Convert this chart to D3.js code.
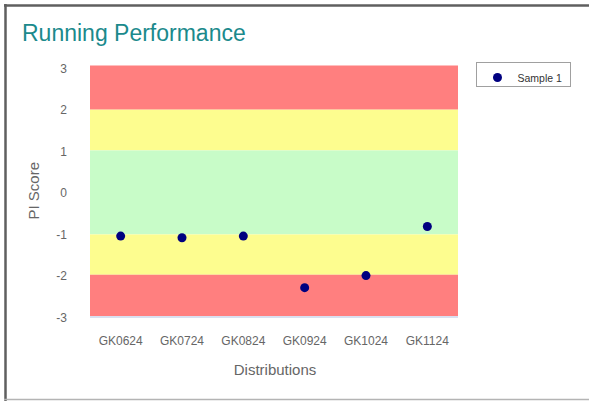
<!DOCTYPE html>
<html>
<head>
<meta charset="utf-8">
<script src="https://cdn.jsdelivr.net/npm/d3@7"></script>
<style>
  body { margin: 0; background: #fff; }
  svg { display: block; font-family: "Liberation Sans", Arial, sans-serif; }
</style>
</head>
<body>
<div id="chart"></div>
<script>
// data
const categories = ["GK0624", "GK0724", "GK0824", "GK0924", "GK1024", "GK1124"];
const sample1 = [-1.09, -1.13, -1.09, -2.33, -2.04, -0.86];
const yTicks = [3, 2, 1, 0, -1, -2, -3];
const bandFrom = [1.95, 0.97, -1.05, -2.02, -3];
const bandTo = [3, 1.95, 0.97, -1.05, -2.02];
const bandColors = ["#ff7f7f", "#fdfd8f", "#c8fcc8", "#fdfd8f", "#ff7f7f"];

let w = 589;
let h = 401;

const margin = {top: 65.5, right: 131, bottom: 85, left: 90},
      width = w - margin.left - margin.right,
      height = h - margin.top - margin.bottom;

let svg = d3.select("#chart").append("svg")
    .attr("width", w)
    .attr("height", h);

// frame around the card
svg.append("line").attr("x1", 4).attr("x2", w).attr("y1", 5.5).attr("y2", 5.5)
    .attr("stroke", "#5f5f5f").attr("stroke-width", 2.5);
svg.append("line").attr("x1", 5.5).attr("x2", 5.5).attr("y1", 4).attr("y2", h)
    .attr("stroke", "#5f5f5f").attr("stroke-width", 2.5);
svg.append("line").attr("x1", 4).attr("x2", w).attr("y1", 399.5).attr("y2", 399.5)
    .attr("stroke", "#b4b4b4").attr("stroke-width", 1.5);

svg.append("text")
    .attr("x", 22)
    .attr("y", 41)
    .attr("fill", "#1b8a8c")
    .attr("font-size", "23px")
    .text("Running Performance");

const x = d3.scaleBand()
    .domain(categories)
    .range([margin.left, margin.left + width]);

const y = d3.scaleLinear()
    .domain([-3, 3])
    .range([margin.top + height - 0.5, margin.top + 0.5]);

// plot bands
svg.append("g").selectAll("rect")
    .data(bandColors)
    .enter().append("rect")
    .attr("x", margin.left)
    .attr("width", width)
    .attr("y", function(d, i){ return y(bandTo[i]) - (i === 0 ? 0.5 : 0); })
    .attr("height", function(d, i){ return y(bandFrom[i]) - y(bandTo[i]) + (i === 0 || i === 4 ? 0.5 : 0); })
    .attr("fill", function(d){ return d; });

// x axis line
svg.append("line")
    .attr("x1", margin.left).attr("x2", margin.left + width)
    .attr("y1", margin.top + height + 1).attr("y2", margin.top + height + 1)
    .attr("stroke", "#ccd6eb").attr("stroke-width", 1.5);

// y tick labels
svg.append("g").selectAll("text")
    .data(yTicks)
    .enter().append("text")
    .attr("x", 67)
    .attr("y", function(d){ return y(d) + 6.5; })
    .attr("text-anchor", "end")
    .attr("font-size", "12px")
    .attr("fill", "#666")
    .text(function(d){ return d; });

// x tick labels
svg.append("g").selectAll("text")
    .data(categories)
    .enter().append("text")
    .attr("x", function(d){ return x(d) + x.bandwidth() / 2; })
    .attr("y", 344.5)
    .attr("text-anchor", "middle")
    .attr("font-size", "12px")
    .attr("fill", "#666")
    .text(function(d){ return d; });

svg.append("text")
    .attr("x", margin.left + width / 2 + 1)
    .attr("y", 374.5)
    .attr("text-anchor", "middle")
    .attr("font-size", "15px")
    .attr("fill", "#666")
    .text("Distributions");

svg.append("text")
    .attr("transform", "translate(38.5," + (margin.top + height / 2) + ") rotate(-90)")
    .attr("text-anchor", "middle")
    .attr("font-size", "15px")
    .attr("fill", "#666")
    .text("PI Score");

// points
svg.append("g").selectAll("circle")
    .data(sample1)
    .enter().append("circle")
    .attr("cx", function(d, i){ return x(categories[i]) + x.bandwidth() / 2; })
    .attr("cy", function(d){ return y(d); })
    .attr("r", 4.5)
    .attr("fill", "#000080");

// legend
const legend = svg.append("g").attr("transform", "translate(476.5,62.5)");
legend.append("rect")
    .attr("width", 94)
    .attr("height", 24)
    .attr("fill", "#fff")
    .attr("stroke", "#a0a0a0");
legend.append("circle")
    .attr("cx", 21)
    .attr("cy", 15)
    .attr("r", 4.5)
    .attr("fill", "#000080");
legend.append("text")
    .attr("x", 41)
    .attr("y", 19)
    .attr("font-size", "10.5px")
    .attr("fill", "#333")
    .text("Sample 1");
</script>
</body>
</html>
